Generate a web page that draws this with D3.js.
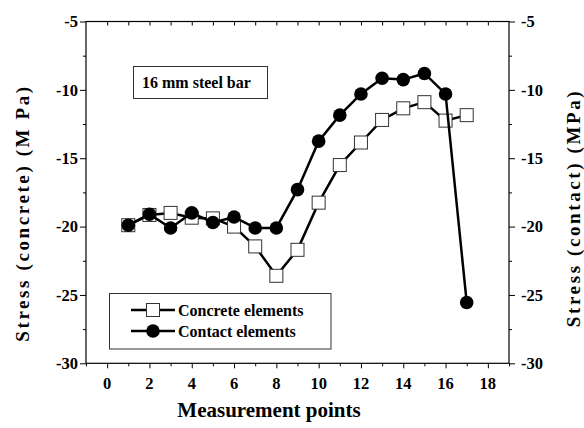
<!DOCTYPE html>
<html>
<head>
<meta charset="utf-8">
<script src="https://cdn.jsdelivr.net/npm/d3@7"></script>
<style>
  body { margin: 0; background: #fff; }
  svg text { font-family: "Liberation Serif", "Times New Roman", serif; font-weight: bold; fill: #000; }
</style>
</head>
<body>
<svg id="chart" width="584" height="428"></svg>
<script>
var points = [1, 2, 3, 4, 5, 6, 7, 8, 9, 10, 11, 12, 13, 14, 15, 16, 17];
var concrete = [-19.9, -19.15, -19.0, -19.35, -19.4, -20.0, -21.45, -23.6, -21.7, -18.25, -15.5, -13.85, -12.2, -11.35, -10.9, -12.25, -11.85];
var contact = [-19.9, -19.1, -20.1, -19.0, -19.7, -19.3, -20.1, -20.1, -17.3, -13.75, -11.85, -10.3, -9.15, -9.25, -8.8, -10.3, -25.55];
var xTicks = [0, 2, 4, 6, 8, 10, 12, 14, 16, 18];
var yTicks = [-5, -10, -15, -20, -25, -30];
var seriesNames = ["Concrete elements", "Contact elements"];

var svg = d3.select("#chart");
// plot frame (note: "top" is reserved on window, so use p* names)
var pLeft = 86, pRight = 509, pTop = 21.5, pBottom = 363.3;

var x = d3.scaleLinear().domain([-1, 19]).range([pLeft, pRight]);
var y = d3.scaleLinear().domain([-30, -5]).range([pBottom, pTop]);

// bottom axis
var gx = svg.append("g").attr("transform", "translate(0," + pBottom + ")");
gx.call(d3.axisBottom(x).tickValues(d3.range(-1, 20, 1)).tickSize(3).tickFormat(""));
gx.call(function(g){
	g.selectAll(".tick").filter(function(d){ return d % 2 == 0; }).select("line").attr("y2", 5);
	g.select(".domain").remove();
});
xTicks.forEach(function(t){
	gx.append("text").attr("x", x(t)).attr("y", 26).attr("text-anchor", "middle")
	.attr("font-size", 16.5).text(t);
});

// top ticks (inward)
var gt = svg.append("g").attr("transform", "translate(0," + pTop + ")");
gt.call(d3.axisBottom(x).tickValues(d3.range(0, 19, 1)).tickSize(4).tickFormat(""));
gt.select(".domain").remove();

// left axis
var gl = svg.append("g").attr("transform", "translate(" + pLeft + ",0)");
gl.call(d3.axisLeft(y).tickValues(d3.range(-30, -4, 2.5)).tickSize(3).tickFormat(""));
gl.call(function(g){
	g.selectAll(".tick").filter(function(d){ return d % 5 == 0; }).select("line").attr("x2", -6);
	g.select(".domain").remove();
});
yTicks.forEach(function(t){
	gl.append("text").attr("x", -8).attr("y", y(t)).attr("dy", "0.35em").attr("text-anchor", "end")
	.attr("font-size", 16.5).text(t);
});

// right axis
var gr = svg.append("g").attr("transform", "translate(" + pRight + ",0)");
gr.call(d3.axisRight(y).tickValues(d3.range(-30, -4, 2.5)).tickSize(3).tickFormat(""));
gr.call(function(g){
	g.selectAll(".tick").filter(function(d){ return d % 5 == 0; }).select("line").attr("x2", 6);
	g.select(".domain").remove();
});
yTicks.forEach(function(t){
	gr.append("text").attr("x", 12).attr("y", y(t)).attr("dy", "0.35em").attr("text-anchor", "start")
	.attr("font-size", 16.5).text(t);
});

svg.selectAll(".tick line").attr("stroke", "#000");

// frame
svg.append("rect").attr("x", pLeft).attr("y", pTop).attr("width", pRight - pLeft).attr("height", pBottom - pTop)
.attr("fill", "none").attr("stroke", "#000").attr("stroke-width", 1.2);

// titles
svg.append("text").attr("x", 269).attr("y", 417).attr("text-anchor", "middle")
.attr("font-size", 21).text("Measurement points");
svg.append("text").attr("transform", "translate(29," + 213 + ") rotate(-90)").attr("text-anchor", "middle")
.attr("font-size", 19).attr("letter-spacing", 2.6).text("Stress (concrete) (M Pa)");
svg.append("text").attr("transform", "translate(580," + 208 + ") rotate(-90)").attr("text-anchor", "middle")
.attr("font-size", 19).attr("letter-spacing", 2.6).text("Stress (contact) (MPa)");

// series
var line = d3.line().x(function(d, i){ return x(points[i]); }).y(function(d){ return y(d); });

svg.append("path").datum(concrete).attr("d", line).attr("fill", "none")
.attr("stroke", "#000").attr("stroke-width", 2.5);
svg.selectAll(".sq").data(concrete).enter().append("rect").attr("class", "sq")
.attr("x", function(d, i){ return x(points[i]) - 6.5; })
.attr("y", function(d){ return y(d) - 6.5; })
.attr("width", 13).attr("height", 13)
.attr("fill", "#fff").attr("stroke", "#333").attr("stroke-width", 1);

svg.append("path").datum(contact).attr("d", line).attr("fill", "none")
.attr("stroke", "#000").attr("stroke-width", 2.5);
svg.selectAll(".dot").data(contact).enter().append("circle").attr("class", "dot")
.attr("cx", function(d, i){ return x(points[i]); })
.attr("cy", function(d){ return y(d); })
.attr("r", 6.8).attr("fill", "#000");

// note box
svg.append("rect").attr("x", 133.5).attr("y", 66.5).attr("width", 134).attr("height", 32)
.attr("fill", "#fff").attr("stroke", "#333").attr("stroke-width", 1);
svg.append("text").attr("x", 142).attr("y", 88).attr("font-size", 16).text("16 mm steel bar");

// legend
var lg = svg.append("g");
lg.append("rect").attr("x", 109.5).attr("y", 293.5).attr("width", 221.5).attr("height", 55.5)
.attr("fill", "#fff").attr("stroke", "#333").attr("stroke-width", 1);
seriesNames.forEach(function(name, i){
	var ry = 310 + i * 21;
	lg.append("line").attr("x1", 131).attr("x2", 175).attr("y1", ry).attr("y2", ry)
	.attr("stroke", "#000").attr("stroke-width", 2.5);
	if (i == 0) {
		lg.append("rect").attr("x", 146.5).attr("y", ry - 6.5).attr("width", 13).attr("height", 13)
		.attr("fill", "#fff").attr("stroke", "#333");
	} else {
		lg.append("circle").attr("cx", 153).attr("cy", ry).attr("r", 6.8).attr("fill", "#000");
	}
	lg.append("text").attr("x", 178).attr("y", ry).attr("dy", "0.35em").attr("font-size", 16).text(name);
});
</script>
</body>
</html>
